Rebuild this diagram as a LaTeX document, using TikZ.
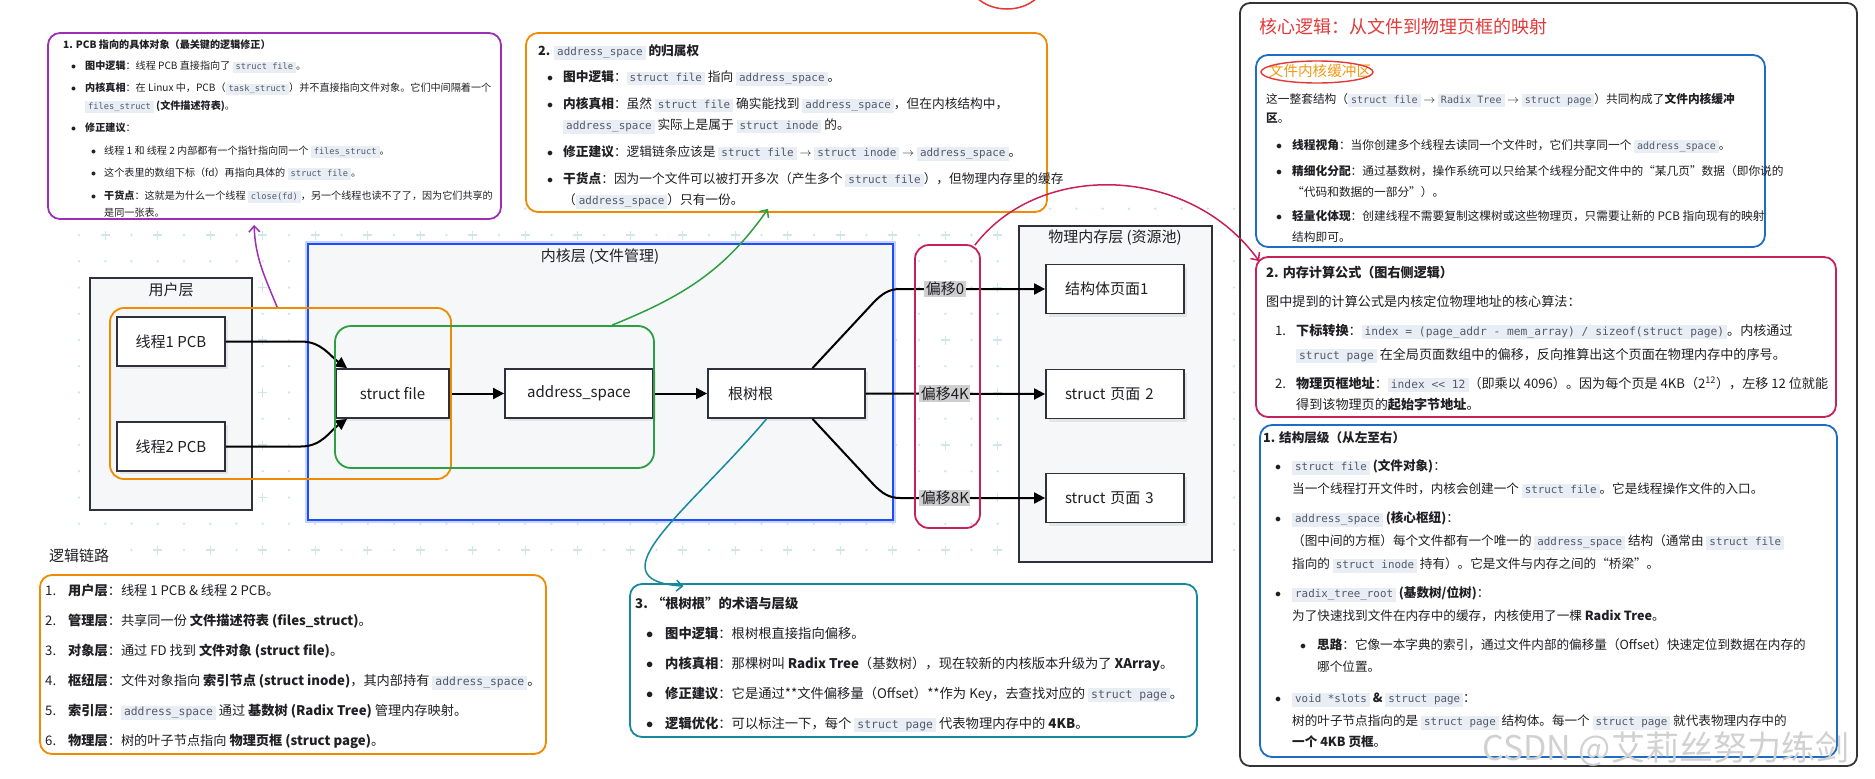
\documentclass[tikz,border=0pt]{standalone}
\usepackage{fontspec}
\setmainfont{Noto Sans CJK SC}
\setmonofont{DejaVu Sans Mono}[Scale=0.86]
\usetikzlibrary{arrows.meta,shadows}

\definecolor{purplec}{HTML}{9C2FB5}
\definecolor{orangec}{HTML}{F08A00}
\definecolor{greenc}{HTML}{2E9E42}
\definecolor{crimc}{HTML}{C8205A}
\definecolor{tealc}{HTML}{168A9C}
\definecolor{bluec}{HTML}{1E6CC6}
\definecolor{kblue}{HTML}{1F4BFF}
\definecolor{darkc}{HTML}{333338}
\definecolor{laylinec}{HTML}{2F2F3D}
\definecolor{layfillc}{HTML}{F6F7F9}
\definecolor{codebg}{HTML}{E9EDF4}
\definecolor{codefg}{HTML}{55596A}
\definecolor{gridc}{HTML}{CFE7EB}
\definecolor{titlered}{HTML}{E23A3A}
\definecolor{bufor}{HTML}{F39A12}
\definecolor{offfill}{HTML}{CFCFCF}
\definecolor{txtc}{HTML}{1F1F24}

% inline code, bullets and indents for the note texts
\newcommand{\code}[1]{{\setlength{\fboxsep}{1.4pt}\colorbox{codebg}{\hspace{1.6pt}\textcolor{codefg}{\ttfamily\vphantom{Ag(}#1}\hspace{1.6pt}}}}
\newcommand{\bul}[2]{\hspace*{#1pt}\makebox[#2pt][l]{$\bullet$}}
\newcommand{\numl}[3]{\hspace*{#1pt}\makebox[#2pt][l]{#3}}
\newcommand{\cont}[1]{\hspace*{#1pt}}

\tikzset{
  note/.style={draw=#1, fill=white, line width=1.8pt, rounded corners=12pt, inner sep=0pt},
  notetext/.style={anchor=north west, inner sep=0pt, align=left, text=txtc},
  layer/.style={draw=laylinec, fill=layfillc, line width=1.8pt, inner sep=0pt},
  laytitle/.style={font=\fontsize{15}{18}\selectfont, text=txtc, inner sep=1pt},
  blk/.style={draw=laylinec, fill=white, line width=1.8pt, minimum height=49pt,
    font=\fontsize{15}{18}\selectfont, text=txtc,
    drop shadow={shadow xshift=3pt, shadow yshift=-3pt, fill=black!10, opacity=1}},
  grp/.style={draw=#1, line width=1.8pt, rounded corners=14pt, inner sep=0pt},
  offlbl/.style={fill=offfill, inner sep=1.5pt, font=\fontsize{15}{18}\selectfont, text=txtc},
  flow/.style={line width=2pt, -{Triangle[length=11pt,width=11pt]}},
  ann/.style={draw=#1, line width=1.5pt, -{Straight Barb[length=6pt,width=11pt]}}
}

\begin{document}
\begin{tikzpicture}[x=1pt,y=-1pt]
    \useasboundingbox (0,0) rectangle (1875,779);

    % Background grid of dots and crosses
    \foreach \j in {-1,1,...,11} {
        \foreach \i in {0,...,44}
            \fill[gridc] ({79+26.25*\i},{235+26.25*\j}) circle (1.3);
    }
    \foreach \j in {0,2,...,12} {
        \foreach \i in {0,2,...,44}
            \fill[gridc] ({79+26.25*\i},{235+26.25*\j}) circle (1.3);
        \foreach \i in {1,3,...,43}
            \draw[gridc, line width=1.1pt] ({79+26.25*\i},{235+26.25*\j}) ++(-4.5,0) -- ++(9,0) ++(-4.5,-4.5) -- ++(0,9);
    }

    % Partly hidden red ring at the top edge
    \draw[titlered, line width=1.5pt] (1007,-20) ellipse [x radius=38, y radius=29];

    % Layers
    \node[layer, minimum width=162, minimum height=232] (userlay) at (171,394) {};
    \node[layer, draw=kblue, line width=2.6pt, preaction={draw=kblue!25, line width=6pt},
          minimum width=585, minimum height=276] (kernlay) at (600.5,382) {};
    \node[layer, minimum width=193, minimum height=336] (memlay) at (1115.5,394) {};
    \node[laytitle] (userttl) at (171,290) {用户层};
    \node[laytitle] (kernttl) at (600,257) {内核层 (文件管理)};
    \node[laytitle] (memttl) at (1115,238) {物理内存层 (资源池)};

    % Structure boxes
    \node[blk, minimum width=108] (th1) at (171,341.5) {线程1 PCB};
    \node[blk, minimum width=108] (th2) at (171,446.5) {线程2 PCB};
    \node[blk, minimum width=113] (sf) at (392.5,393.5) {struct file};
    \node[blk, minimum width=148] (as) at (579,393.5) {address\_space};
    \node[blk, minimum width=157, text width=117, align=left] (rt) at (786.5,393.5) {根树根};
    \node[blk, minimum width=138, text width=100, align=left] (pg1) at (1115,289) {结构体页面1};
    \node[blk, minimum width=138, text width=100, align=left] (pg2) at (1115,394) {struct 页面 2};
    \node[blk, minimum width=138, text width=100, align=left] (pg3) at (1115,498) {struct 页面 3};

    % Pointers
    \draw[flow] (th1.east) -- ++(75,0) to[out=0,in=145] ([xshift=12pt]sf.north west);
    \draw[flow] (th2.east) -- ++(75,0) to[out=0,in=-145] ([xshift=12pt]sf.south west);
    \draw[flow] (sf.east) -- (as.west);
    \draw[flow] (as.east) -- (rt.west);
    \draw[flow] ([xshift=26pt]rt.north) -- (874,302) to[out=45,in=180] (900,289)
        -- node[offlbl, pos=0.31] (off0) {偏移0} (pg1.west);
    \draw[flow] (rt.east) -- node[offlbl, pos=0.44] (off4) {偏移4K} (pg2.west);
    \draw[flow] ([xshift=26pt]rt.south) -- (874,485) to[out=-45,in=180] (900,498)
        -- node[offlbl, pos=0.31] (off8) {偏移8K} (pg3.west);

    % Highlight frames
    \node[grp=orangec, minimum width=341, minimum height=171] (ugrp) at (280.5,393.5) {};
    \node[grp=greenc, rounded corners=16pt, minimum width=319, minimum height=142] (ggrp) at (494.5,397) {};
    \node[grp=crimc, minimum width=65, minimum height=283] (offgrp) at (947.5,386.5) {};

    % Note 1: PCB
    \node[note=purplec, minimum width=453, minimum height=186] (pcbnote) at (274.5,126) {};
    \node[notetext, font=\fontsize{10.1}{17.5}\selectfont] (pcbtext) at (63,40) {%
        \textbf{1. PCB 指向的具体对象（最关键的逻辑修正）}\\[3.5pt]
        \bul{8}{14}\textbf{图中逻辑}：线程 PCB 直接指向了 \code{struct file}。\\[4.5pt]
        \bul{8}{14}\textbf{内核真相}：在 Linux 中，PCB（\code{task\_struct}）并不直接指向文件对象。它们中间隔着一个\\
        \cont{22}\code{files\_struct} \textbf{(文件描述符表)}。\\[4.5pt]
        \bul{8}{14}\textbf{修正建议}：\\[5.5pt]
        \bul{28}{13}线程 1 和 线程 2 内部都有一个指针指向同一个 \code{files\_struct}。\\[4.5pt]
        \bul{28}{13}这个表里的数组下标（fd）再指向具体的 \code{struct file}。\\[5.5pt]
        \bul{28}{13}\textbf{干货点}：这就是为什么一个线程 \code{close(fd)}，另一个线程也读不了了，因为它们共享的\\
        \cont{41}是同一张表。};

    % Note 2: address_space
    \node[note=orangec, minimum width=521, minimum height=179] (asnote) at (786.5,122.5) {};
    \node[notetext, font=\fontsize{12.7}{21}\selectfont] (astext) at (538,44.6) {%
        \textbf{2.} \code{address\_space} \textbf{的归属权}\\[5pt]
        \bul{9}{16}\textbf{图中逻辑}：\code{struct file} 指向 \code{address\_space}。\\[6pt]
        \bul{9}{16}\textbf{内核真相}：虽然 \code{struct file} 确实能找到 \code{address\_space}，但在内核结构中，\\
        \cont{25}\code{address\_space} 实际上是属于 \code{struct inode} 的。\\[6pt]
        \bul{9}{16}\textbf{修正建议}：逻辑链条应该是 \code{struct file} $\to$ \code{struct inode} $\to$ \code{address\_space}。\\[6pt]
        \bul{9}{16}\textbf{干货点}：因为一个文件可以被打开多次（产生多个 \code{struct file}），但物理内存里的缓存\\
        \cont{25}（\code{address\_space}）只有一份。};

    % Right panel
    \node[note=darkc, rounded corners=10pt, minimum width=617, minimum height=763] (corebox) at (1548.5,384.5) {};
    \node[anchor=west, inner sep=0pt, text=titlered, font=\fontsize{18}{22}\selectfont] (corettl) at (1259,27) {核心逻辑：从文件到物理页框的映射};

    \node[note=bluec, minimum width=509, minimum height=192] (bufnote) at (1510.5,151) {};
    \node[inner sep=0pt, text=bufor, font=\fontsize{14.6}{17}\selectfont] (bufttl) at (1320,71) {文件内核缓冲区};
    \draw[titlered, line width=1.4pt] (1317,72) ellipse [x radius=56, y radius=11];
    \node[notetext, font=\fontsize{11.7}{20}\selectfont] (buftext) at (1266,93.1) {%
        这一整套结构（\code{struct file} $\to$ \code{Radix Tree} $\to$ \code{struct page}）共同构成了\textbf{文件内核缓冲}\\[-1pt]
        \textbf{区}。\\[7pt]
        \bul{10}{16}\textbf{线程视角}：当你创建多个线程去读同一个文件时，它们共享同一个 \code{address\_space}。\\[6pt]
        \bul{10}{16}\textbf{精细化分配}：通过基数树，操作系统可以只给某个线程分配文件中的“某几页”数据（即你说的\\[1pt]
        \cont{26}“代码和数据的一部分”）。\\[4pt]
        \bul{10}{16}\textbf{轻量化体现}：创建线程不需要复制这棵树或这些物理页，只需要让新的 PCB 指向现有的映射\\[1pt]
        \cont{26}结构即可。};

    \node[note=crimc, minimum width=580, minimum height=160] (memnote) at (1546,337) {};
    \node[notetext, font=\fontsize{13.1}{23}\selectfont] (memtext) at (1266,265.5) {%
        \textbf{2. 内存计算公式（图右侧逻辑）}\\[6pt]
        图中提到的计算公式是内核定位物理地址的核心算法：\\[6pt]
        \numl{9}{21}{1.}\textbf{下标转换}：\code{index = (page\_addr - mem\_array) / sizeof(struct page)}。内核通过\\[1pt]
        \cont{30}\code{struct page} 在全局页面数组中的偏移，反向推算出这个页面在物理内存中的序号。\\[6pt]
        \numl{9}{21}{2.}\textbf{物理页框地址}：\code{index {<}{<} 12}（即乘以 4096）。因为每个页是 4KB（2\textsuperscript{12}），左移 12 位就能\\[-2pt]
        \cont{30}得到该物理页的\textbf{起始字节地址}。};

    \node[note=bluec, minimum width=577, minimum height=332] (lvlnote) at (1548.5,591) {};
    \node[notetext, font=\fontsize{12.6}{23}\selectfont] (lvltext) at (1263,431.7) {%
        \textbf{1. 结构层级（从左至右）}\\[5pt]
        \bul{12}{17}\code{struct file} \textbf{(文件对象)}：\\
        \cont{29}当一个线程打开文件时，内核会创建一个 \code{struct file}。它是线程操作文件的入口。\\[6pt]
        \bul{12}{17}\code{address\_space} \textbf{(核心枢纽)}：\\
        \cont{29}（图中间的方框）每个文件都有一个唯一的 \code{address\_space} 结构（通常由 \code{struct file}\\
        \cont{29}指向的 \code{struct inode} 持有）。它是文件与内存之间的“桥梁”。\\[6pt]
        \bul{12}{17}\code{radix\_tree\_root} \textbf{(基数树/位树)}：\\
        \cont{29}为了快速找到文件在内存中的缓存，内核使用了一棵 \textbf{Radix Tree}。\\[6pt]
        \bul{37}{17}\textbf{思路}：它像一本字典的索引，通过文件内部的偏移量（Offset）快速定位到数据在内存的\\[-1pt]
        \cont{54}哪个位置。\\[8pt]
        \bul{12}{17}\code{void *slots} \textbf{\&} \code{struct page}：\\
        \cont{29}树的叶子节点指向的是 \code{struct page} 结构体。每一个 \code{struct page} 就代表物理内存中的\\[-2pt]
        \cont{29}\textbf{一个 4KB 页框}。};

    % Bottom left: chain
    \node[anchor=west, fill=white, inner sep=1pt, text=txtc, font=\fontsize{15}{18}\selectfont] (chainttl) at (48,556) {逻辑链路};
    \node[note=orangec, minimum width=506, minimum height=179] (chainnote) at (293,664.5) {};
    \node[notetext, font=\fontsize{13.2}{30}\selectfont] (chaintext) at (45,584.4) {%
        \numl{0}{23}{1.}\textbf{用户层}：线程 1 PCB \& 线程 2 PCB。\\
        \numl{0}{23}{2.}\textbf{管理层}：共享同一份 \textbf{文件描述符表 (files\_struct)}。\\
        \numl{0}{23}{3.}\textbf{对象层}：通过 FD 找到 \textbf{文件对象 (struct file)}。\\
        \numl{0}{23}{4.}\textbf{枢纽层}：文件对象指向 \textbf{索引节点 (struct inode)}，其内部持有 \code{address\_space}。\\
        \numl{0}{23}{5.}\textbf{索引层}：\code{address\_space} 通过 \textbf{基数树 (Radix Tree)} 管理内存映射。\\
        \numl{0}{23}{6.}\textbf{物理层}：树的叶子节点指向 \textbf{物理页框 (struct page)}。};

    % Bottom middle: the root
    \node[note=tealc, minimum width=567, minimum height=153] (rootnote) at (913.5,660.5) {};
    \node[notetext, font=\fontsize{13.3}{30}\selectfont] (roottext) at (635,596.4) {%
        \textbf{3. “根树根”的术语与层级}\\
        \bul{11}{19}\textbf{图中逻辑}：根树根直接指向偏移。\\
        \bul{11}{19}\textbf{内核真相}：那棵树叫 \textbf{Radix Tree}（基数树），现在较新的内核版本升级为了 \textbf{XArray}。\\
        \bul{11}{19}\textbf{修正建议}：它是通过**文件偏移量（Offset）**作为 Key，去查找对应的 \code{struct page}。\\
        \bul{11}{19}\textbf{逻辑优化}：可以标注一下，每个 \code{struct page} 代表物理内存中的 \textbf{4KB}。};

    % Arrows from the frames to the notes
    \draw[ann=purplec] ([xshift=168pt]ugrp.north west) to[out=112,in=-88] ([xshift=207pt,yshift=-5pt]pcbnote.south west);
    \draw[ann=greenc] ([xshift=278pt]ggrp.north west) to[out=22,in=-125] ([xshift=-18.5pt,yshift=4pt]asnote.south);
    \draw[ann=tealc] ([xshift=-20pt]rt.south) .. controls (690,510) and (590,580) .. ([xshift=-230pt,yshift=-3pt]rootnote.north);
    \draw[ann=crimc] ([xshift=-6pt,yshift=-1pt]offgrp.north east) .. controls (1040,160) and (1190,165) .. ([xshift=4pt,yshift=-5pt]memnote.north west);

    % Watermark
    \node[anchor=west, inner sep=0pt, text=black!18, font=\fontsize{34}{36}\selectfont] (wmark) at (1482,749) {CSDN @艾莉丝努力练剑};

\end{tikzpicture}
\end{document}
